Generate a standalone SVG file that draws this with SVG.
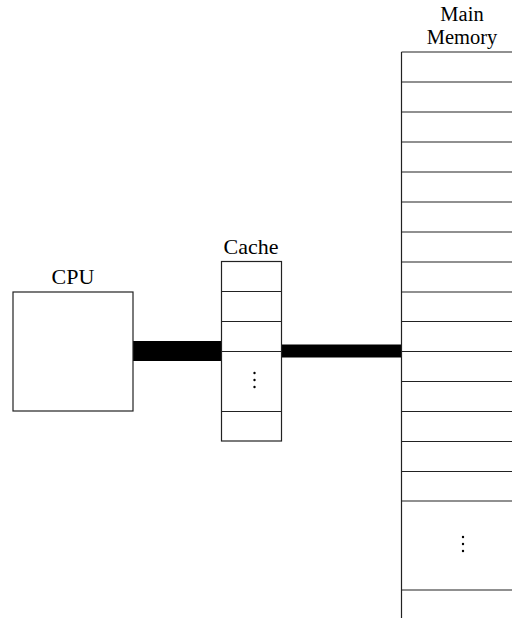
<svg xmlns="http://www.w3.org/2000/svg" width="512" height="618" viewBox="0 0 512 618">
<style>
.lbl{font-family:"Liberation Serif","Times New Roman",serif;font-size:22px;fill:#000;text-anchor:middle}
.mm{font-size:20.5px}
.box{fill:#fff;stroke:#222;stroke-width:1.2}
.ln{stroke:#222;stroke-width:1.2;fill:none}
.dot{fill:#000}
</style>
<rect width="512" height="618" fill="#fff"/>
<g id="connectors">
<rect x="133" y="341" width="89" height="20" fill="#000"/>
<rect x="282" y="344.5" width="119" height="13" fill="#000"/>
</g>
<g id="cpu">
<text class="lbl" x="73" y="284">CPU</text>
<rect class="box" x="13" y="292" width="120" height="119"/>
</g>
<g id="cache">
<text class="lbl" x="251" y="254">Cache</text>
<rect class="box" x="221.5" y="261.5" width="60" height="179.5"/>
<path class="ln" d="M221.5 291.5H281.5M221.5 321.5H281.5M221.5 351.5H281.5M221.5 411.5H281.5"/>
<circle class="dot" cx="254.5" cy="373" r="1.2"/>
<circle class="dot" cx="254.5" cy="380" r="1.2"/>
<circle class="dot" cx="254.5" cy="387" r="1.2"/>
</g>
<g id="main-memory">
<text class="lbl mm" x="462" y="21">Main</text>
<text class="lbl mm" x="462" y="44">Memory</text>
<path class="ln" d="M401.5 52V618"/>
<path class="ln" d="M401.5 52H512M401.5 82H512M401.5 112H512M401.5 142H512M401.5 172H512M401.5 202H512M401.5 232H512M401.5 262H512M401.5 292H512M401.5 321.5H512M401.5 351.5H512M401.5 381.5H512M401.5 411.5H512M401.5 441.5H512M401.5 471.5H512M401.5 501H512M401.5 590H512"/>
<circle class="dot" cx="463" cy="537" r="1.2"/>
<circle class="dot" cx="463" cy="544" r="1.2"/>
<circle class="dot" cx="463" cy="551" r="1.2"/>
</g>
</svg>
